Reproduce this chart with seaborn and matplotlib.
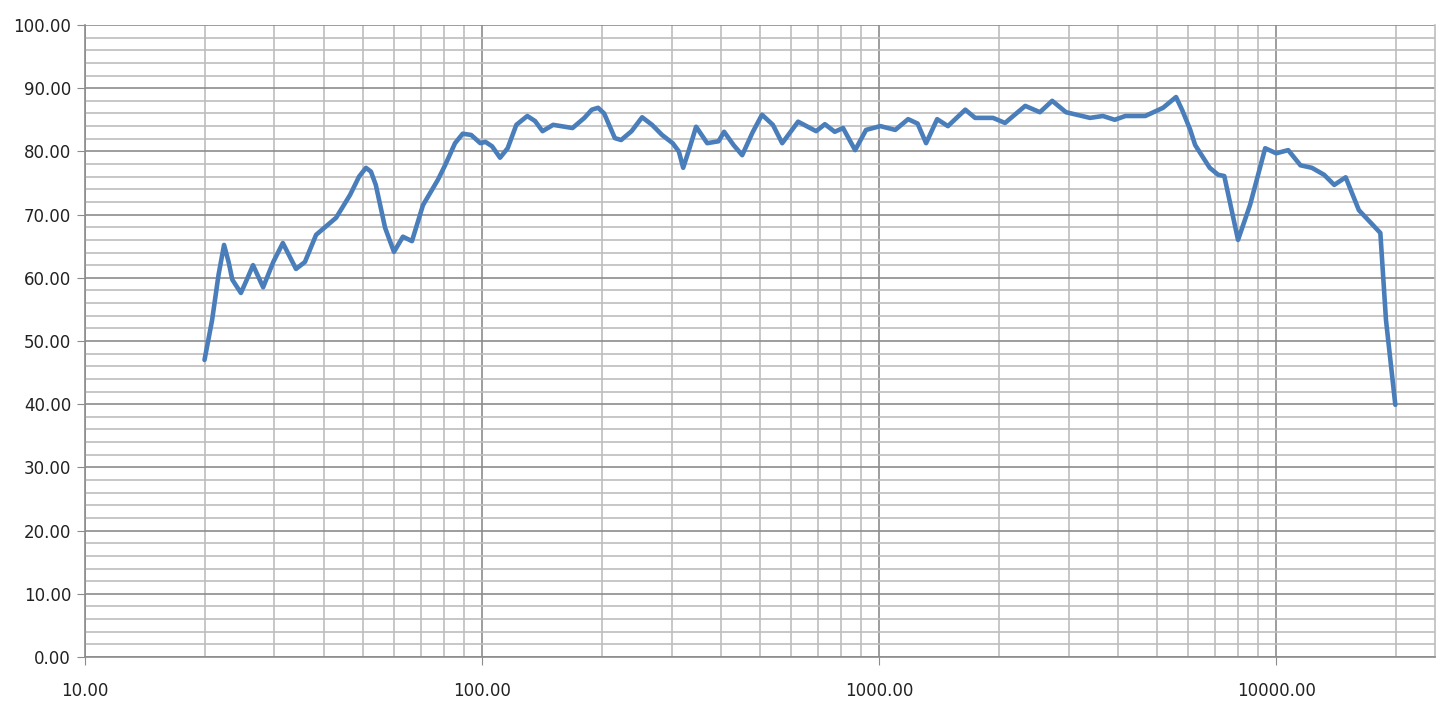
import numpy as np
import pandas as pd
import seaborn as sns
import matplotlib.pyplot as plt
from matplotlib.ticker import LogLocator, FixedLocator, FuncFormatter

# Frequency response (Hz, dB)
freq = [20, 20.9, 21.7, 22.4, 23.0, 23.5, 24.7, 25.6, 26.5, 28.1, 29.8, 31.5,
        34.0, 35.8, 38.2, 42.9, 46.5, 49.0, 51.0, 52.5, 54.0, 57.0, 60.0, 63.2,
        66.6, 71.0, 77.4, 80.7, 85.5, 89.4, 93.9, 99.0, 102, 106, 111, 116,
        122, 130, 136, 142, 151, 169, 181, 189, 196, 203, 216, 224, 238, 253,
        268, 284, 302, 313, 321, 333, 346, 369, 394, 407, 430, 452, 480, 507,
        540, 570, 625, 694, 730, 773, 811, 870, 927, 1007, 1098, 1183, 1250,
        1313, 1400, 1490, 1648, 1745, 1936, 2075, 2333, 2540, 2728, 2955, 3397,
        3660, 3920, 4170, 4680, 5188, 5594, 5800, 6067, 6250, 6800, 7143, 7400,
        8014, 8590, 9380, 10000, 10720, 11510, 12300, 13200, 14000, 14960,
        16150, 18290, 18900, 19950]
spl = [47.0, 53.3, 60.5, 65.2, 62.5, 59.7, 57.6, 59.8, 62.0, 58.5, 62.5, 65.5,
       61.4, 62.5, 66.8, 69.5, 73.1, 76.0, 77.4, 76.8, 74.7, 67.9, 64.1, 66.5,
       65.8, 71.5, 75.5, 77.8, 81.3, 82.8, 82.6, 81.3, 81.5, 80.8, 79.0, 80.5,
       84.2, 85.6, 84.8, 83.2, 84.2, 83.7, 85.3, 86.6, 86.9, 86.0, 82.1, 81.8,
       83.2, 85.4, 84.2, 82.6, 81.3, 80.0, 77.4, 80.5, 83.9, 81.3, 81.6, 83.1,
       81.0, 79.4, 83.0, 85.8, 84.2, 81.3, 84.7, 83.2, 84.3, 83.1, 83.7, 80.2,
       83.4, 84.0, 83.4, 85.1, 84.4, 81.3, 85.1, 84.0, 86.6, 85.3, 85.3, 84.5,
       87.2, 86.2, 88.0, 86.2, 85.3, 85.6, 85.0, 85.6, 85.6, 86.9, 88.6, 86.5,
       83.5, 81.0, 77.4, 76.3, 76.1, 66.0, 71.5, 80.5, 79.7, 80.2, 77.8, 77.4,
       76.3, 74.7, 75.9, 70.7, 67.1, 53.3, 39.9]

df = pd.DataFrame({"freq": freq, "spl": spl})

fig = plt.figure(figsize=(14.5, 7.16), dpi=100)
ax = fig.add_axes([0.0586, 0.0824, 0.931, 0.8827])

sns.lineplot(data=df, x="freq", y="spl", ax=ax, color="#4A7EBB",
             linewidth=3.3, solid_capstyle="round", solid_joinstyle="round")

ax.set_xscale("log")
ax.set_xlim(10, 25100)
ax.set_ylim(0, 100)

ax.xaxis.set_major_locator(FixedLocator([10, 100, 1000, 10000]))
ax.xaxis.set_minor_locator(LogLocator(base=10, subs=np.arange(2, 10), numticks=20))
ax.xaxis.set_major_formatter(FuncFormatter(lambda v, p: f"{v:.2f}"))
ax.xaxis.set_minor_formatter(FuncFormatter(lambda v, p: ""))
ax.yaxis.set_major_locator(FixedLocator(np.arange(0, 101, 10)))
ax.yaxis.set_minor_locator(FixedLocator(np.arange(0, 101, 2)))
ax.yaxis.set_major_formatter(FuncFormatter(lambda v, p: f"{v:.2f}"))

ax.grid(which="major", color="#8C8C8C", linewidth=1.2)
ax.grid(which="minor", color="#BEBEBE", linewidth=1.2)
ax.set_axisbelow(True)

ax.tick_params(which="major", length=6, color="#8C8C8C", labelsize=12,
               labelcolor="#222222", pad=4)
ax.tick_params(axis="x", which="major", pad=12)
ax.tick_params(which="minor", length=0)

ax.spines["top"].set_visible(False)
ax.spines["left"].set_color("#8C8C8C")
ax.spines["bottom"].set_color("#8C8C8C")
ax.spines["right"].set_color("#BEBEBE")
for s in ["left", "bottom", "right"]:
    ax.spines[s].set_linewidth(1.2)

ax.set_xlabel("")
ax.set_ylabel("")

fig.savefig("out.png", dpi=100, facecolor="white")
